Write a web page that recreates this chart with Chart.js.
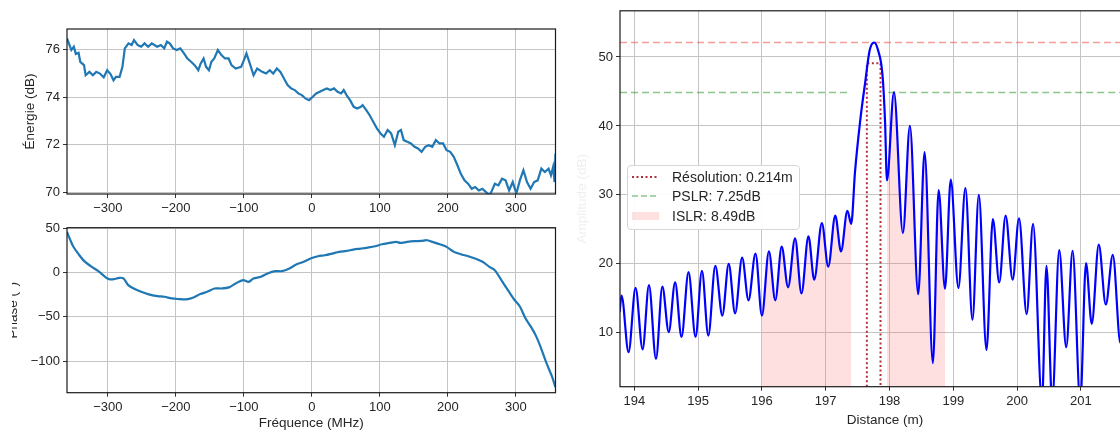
<!DOCTYPE html>
<html>
<head>
<meta charset="utf-8">
<title>Énergie, phase et réponse impulsionnelle</title>
<script src="https://cdn.jsdelivr.net/npm/chart.js"></script>
<style>
    html, body { margin: 0; padding: 0; background: #fff; }
    body { width: 1120px; height: 432px; overflow: hidden; position: relative; font-family: 'Liberation Sans', Arial, sans-serif; }
    canvas { position: absolute; }
    #cEnergie { left: 0; top: 0; }
    #cPhase { left: 0; top: 216px; }
    #cDist { left: 560px; top: 0; }
    .mask { position: absolute; left: 0; top: 236px; width: 12px; height: 150px; background: #fff; }
    .legend {
        position: absolute; left: 627px; top: 165px; width: 173px; height: 65px;
        box-sizing: border-box; border: 1px solid #d6d6d6; border-radius: 4px;
        background: rgba(255,255,255,0.92); padding-top: 1px;
        font-size: 14px; color: #262626;
    }
    .row { height: 19.5px; display: flex; align-items: center; }
    .row svg { margin-left: 4px; margin-right: 13px; }
</style>
</head>
<body>
    <canvas id="cEnergie" width="560" height="216"></canvas>
    <canvas id="cPhase" width="560" height="216"></canvas>
    <canvas id="cDist" width="600" height="432"></canvas>
    <div class="mask"></div>

    <div class="legend">
        <div class="row"><svg width="27" height="10"><line x1="0" y1="5" x2="27" y2="5" stroke="#b22d3a" stroke-width="2" stroke-dasharray="2 2.5"/></svg>Résolution: 0.214m</div>
        <div class="row"><svg width="27" height="10"><line x1="0" y1="5" x2="27" y2="5" stroke="rgba(0,128,0,0.45)" stroke-width="1.6" stroke-dasharray="6 3"/></svg>PSLR: 7.25dB</div>
        <div class="row"><svg width="27" height="10"><rect x="0" y="1" width="27" height="8" fill="rgba(255,99,99,0.2)"/></svg>ISLR: 8.49dB</div>
    </div>

    <script>
        // Énergie (dB) en fonction de la fréquence (MHz)
        const freqEnergie = [-360, -357.3, -353.6, -350, -347, -343, -340.5, -335, -332.6, -327, -322, -317, -311.6, -306, -301, -296, -291.6, -288, -282.7, -278.5,
            -275, -269.6, -265, -261.5, -256, -251, -246, -240.7, -235.4, -227.5, -222, -217, -213, -209, -204, -198.6, -193.4, -188, -183, -177.6,
            -172.4, -167, -163.4, -159.2, -155.5, -151.3, -147.7, -143.5, -138.2, -133, -127.7, -122.4, -118.2, -112, -104, -98.8, -96.2, -92, -85.7, -80.4,
            -73, -67.3, -62, -56.8, -51.5, -46.2, -41, -35.7, -30.5, -25.2, -20, -14.7, -9.5, -4.2, 1, 6.3, 11.6, 16.8, 22, 27.3,
            32.6, 37.8, 43, 46.8, 51, 56.2, 61.5, 66.7, 72, 74.6, 80, 85, 90.4, 95.6, 101, 106, 111.4, 116.6, 122, 127,
            131, 135, 140.3, 145.6, 151, 156, 161.3, 166.6, 171.8, 177, 182.3, 187.6, 192.9, 198, 203.4, 208.6, 214, 219, 224.4, 229.6,
            235, 240, 245.4, 250.7, 256, 261, 263.8, 269, 274.3, 279.6, 284.8, 290, 295.3, 300.6, 305.8, 311, 316.3, 321.6, 326.8, 332,
            337.4, 342.6, 348, 351.5, 354.7, 356.8, 358.2];
        const energieDb = [76.45, 76.24, 75.96, 76.1, 75.8, 75.85, 75.47, 75.33, 74.91, 75.05, 74.91, 75.05, 74.98, 74.82, 75.12, 74.96, 74.7, 74.84, 74.84, 75.26,
            76.03, 76.24, 76.17, 76.38, 76.17, 76.1, 76.24, 76.1, 76.24, 76.1, 76.17, 76.03, 76.31, 76.24, 76.03, 75.96, 76.03, 75.82, 75.61, 75.47,
            75.33, 75.12, 75.4, 75.61, 75.26, 75.12, 75.47, 75.61, 75.96, 75.75, 75.61, 75.61, 75.33, 75.19, 75.26, 75.61, 75.82, 75.47, 74.91, 75.19,
            75.05, 74.98, 75.12, 74.98, 75.19, 75.05, 74.77, 74.5, 74.36, 74.29, 74.15, 74.08, 73.94, 73.87, 74.0, 74.15, 74.22, 74.29, 74.36, 74.29,
            74.36, 74.22, 74.15, 74.29, 74.08, 73.87, 73.59, 73.52, 73.59, 73.66, 73.45, 73.24, 72.96, 72.69, 72.48, 72.34, 72.62, 72.48, 71.99, 72.55,
            72.62, 72.2, 72.13, 72.06, 71.92, 71.85, 71.71, 71.92, 71.99, 71.92, 72.2, 72.06, 72.06, 71.78, 71.71, 71.5, 71.15, 70.79, 70.52, 70.38,
            70.17, 70.24, 70.1, 70.17, 70.03, 69.9, 70.03, 70.38, 70.31, 70.59, 70.52, 70.1, 70.45, 69.97, 70.52, 70.94, 70.45, 70.17, 70.45, 70.52,
            71.01, 70.87, 71.01, 70.73, 71.08, 70.45, 71.64];

        // Phase (°) en fonction de la fréquence (MHz)
        const freqPhase = [-360, -356, -351, -343, -335, -325, -314, -304, -298, -291, -283, -277, -270, -262, -251, -241, -227, -217, -206, -196,
            -185, -175, -164, -154, -143, -133, -122, -112, -101, -93, -86, -75, -65, -54, -44, -33, -23, -12, -2, 9,
            19, 30, 40, 51, 61, 72, 82, 93, 103, 114, 124, 130, 140, 151, 161, 169, 177, 188, 198, 209,
            219, 230, 240, 251, 261, 269, 277, 285, 293, 298, 306, 314, 322, 330, 337, 345, 353, 358];
        const phaseDeg = [45.6, 38.1, 29.5, 20.6, 13.1, 7.1, 1.5, -4.9, -7.5, -7.5, -6.0, -6.7, -14.2, -18, -21.7, -24.3, -26.6, -27.3, -29.2, -29.9,
            -30.3, -28.4, -24.3, -21.7, -18, -18, -16.8, -12.3, -8.6, -10.5, -6.7, -4.9, -1.1, 1.5, 1.5, 4.5, 9.0, 12, 15.7, 18.3,
            19.4, 21.3, 23.2, 24.3, 25.8, 26.9, 28, 29.5, 31.8, 33.3, 34.4, 33.3, 34.4, 35.2, 35.5, 36.3, 34.4, 31.8, 28.8, 23.2,
            20.6, 18.3, 15.7, 12, 6.4, 2.6, -6.7, -16.1, -25.4, -31, -38.5, -51.6, -61, -72.2, -85.3, -102.1, -117, -129];

        // Réponse impulsionnelle : amplitude (dB) en fonction de la distance (m)
        const distance = [193.77, 193.80, 193.91, 194.02, 194.13, 194.23, 194.34, 194.44, 194.54, 194.64, 194.74, 194.85, 194.96, 195.06, 195.16, 195.27,
            195.38, 195.48, 195.58, 195.69, 195.79, 195.90, 196.00, 196.11, 196.21, 196.31, 196.41, 196.52, 196.62, 196.73, 196.82, 196.94,
            197.04, 197.15, 197.24, 197.34, 197.40, 197.46, 197.54, 197.62, 197.69, 197.76, 197.82, 197.89, 197.93, 197.96, 198.07, 198.21,
            198.32, 198.45, 198.55, 198.68, 198.77, 198.87, 198.96, 199.08, 199.19, 199.30, 199.40, 199.52, 199.62, 199.72, 199.82, 199.93,
            200.03, 200.15, 200.25, 200.39, 200.46, 200.55, 200.66, 200.77, 200.87, 200.99, 201.08, 201.17, 201.28, 201.39, 201.50, 201.62, 201.70];
        const amplitudeDb = [13.0, 15.4, 7.2, 16.5, 7.6, 16.9, 6.2, 16.7, 10.1, 17.3, 9.4, 18.8, 9.4, 19.0, 9.6, 19.7,
            12.5, 20.0, 12.8, 20.9, 14.7, 21.5, 12.5, 21.8, 14.7, 22.5, 16.6, 23.7, 15.7, 24.0, 17.7, 25.9,
            19.6, 27.0, 21.8, 27.7, 25.8, 33.4, 40.7, 46.4, 51.0, 52.1, 51.0, 47.4, 40.7, 32.1, 44.9, 24.5,
            40.0, 15.6, 36.2, 5.6, 30.7, 16.4, 32.2, 16.5, 31.0, 11.9, 30.0, 7.5, 26.5, 17.3, 27.0, 17.7,
            26.6, 12.7, 25.8, 0, 19.7, 0, 22.0, 7.9, 21.9, 0, 20.1, 11.3, 22.8, 14.1, 21.3, 8.5, 18];

        // Repères de mesure
        const niveauPic = 52.1;
        const niveauPslr = 44.85;
        const niveau3dB = 49.1;
        const resolutionBornes = [197.645, 197.859];
        const pslrSegments = [[193.776, 197.38], [197.98, 202.083]];
        const islrZones = [[196.00, 197.40], [197.96, 198.87]];

        // bornes des axes
        const freqMin = -360, freqMax = 358.2;
        const distMin = 193.776, distMax = 202.083;
        const ampMin = 2.18, ampMax = 56.7;

        Chart.defaults.font.family = "'Liberation Sans', Arial, sans-serif";
        Chart.defaults.color = '#262626';

        const toPoints = (xs, ys) => xs.map((x, i) => ({ x: x, y: ys[i] }));
        const moins = v => String(v).replace('-', '\u2212');

        // cadre noir autour de la zone de tracé
        const cadre = {
            id: 'cadre',
            afterDatasetsDraw(chart) {
                const { ctx, chartArea: a } = chart;
                ctx.save();
                ctx.strokeStyle = '#1a1a1a';
                ctx.lineWidth = 1.2;
                ctx.strokeRect(a.left, a.top, a.right - a.left, a.bottom - a.top);
                ctx.restore();
            }
        };

        function axe(o) {
            return {
                type: 'linear',
                min: o.min,
                max: o.max,
                afterFit: s => { if (s.isHorizontal()) s.height = o.size; else s.width = o.size; },
                ticks: { stepSize: o.step, includeBounds: false, autoSkip: false, maxRotation: 0, padding: 3,
                         color: '#262626', font: { size: 13 }, callback: moins },
                grid: { color: '#c4c4c4', lineWidth: 1, tickLength: 4, tickColor: '#333' },
                border: { display: false },
                title: o.title
                    ? { display: true, text: o.title, color: o.titleColor || '#262626', font: { size: 13.5 }, padding: o.titlePad }
                    : { display: false }
            };
        }

        const base = {
            animation: false,
            responsive: false,
            devicePixelRatio: 1,
            plugins: { legend: { display: false }, tooltip: { enabled: false } }
        };

        new Chart(document.getElementById('cEnergie'), {
            type: 'line',
            data: { datasets: [{ data: toPoints(freqEnergie, energieDb), borderColor: '#1f77b4', borderWidth: 2.2, pointRadius: 0, tension: 0 }] },
            options: Object.assign({}, base, {
                layout: { padding: { top: 29, right: 4.5, bottom: 0, left: 0 } },
                scales: {
                    x: axe({ min: freqMin, max: freqMax, step: 100, size: 22 }),
                    y: axe({ min: 69.95, max: 76.84, step: 2, size: 67, title: 'Énergie (dB)', titlePad: { top: 22, bottom: 0 } })
                }
            }),
            plugins: [cadre]
        });

        new Chart(document.getElementById('cPhase'), {
            type: 'line',
            data: { datasets: [{ data: toPoints(freqPhase, phaseDeg), borderColor: '#1f77b4', borderWidth: 2.2, pointRadius: 0, tension: 0.3 }] },
            options: Object.assign({}, base, {
                layout: { padding: { top: 11.7, right: 4.5, bottom: 0, left: 0 } },
                scales: {
                    x: axe({ min: freqMin, max: freqMax, step: 100, size: 39.3, title: 'Fréquence (MHz)', titlePad: { top: 0, bottom: 1 } }),
                    y: axe({ min: -135.3, max: 50.4, step: 50, size: 67, title: 'Phase (°)', titlePad: { top: 5.5, bottom: 0 } })
                }
            }),
            plugins: [cadre]
        });

        // jeux de données du graphe de droite
        const courbe = toPoints(distance, amplitudeDb);
        const zonesIslr = islrZones.map(([a, b]) => ({
            data: courbe.filter(p => p.x >= a - 1e-6 && p.x <= b + 1e-6),
            borderWidth: 0, pointRadius: 0, cubicInterpolationMode: 'monotone',
            fill: 'start', backgroundColor: 'rgba(255,99,99,0.2)', order: 5
        }));
        const lignesPslr = pslrSegments.map(([a, b]) => ({
            data: [{ x: a, y: niveauPslr }, { x: b, y: niveauPslr }],
            borderColor: 'rgba(0,128,0,0.45)', borderWidth: 1.6, borderDash: [7, 4], pointRadius: 0, order: 2
        }));

        new Chart(document.getElementById('cDist'), {
            type: 'line',
            data: {
                datasets: [
                    { data: courbe, borderColor: '#0000ff', borderWidth: 2.2, pointRadius: 0, cubicInterpolationMode: 'monotone', clip: 0, order: 0 },
                    { data: [{ x: resolutionBornes[0], y: ampMin }, { x: resolutionBornes[0], y: niveau3dB },
                             { x: resolutionBornes[1], y: niveau3dB }, { x: resolutionBornes[1], y: ampMin }],
                      borderColor: '#b22d3a', borderWidth: 2, borderDash: [2, 2.5], pointRadius: 0, tension: 0, order: 1 },
                    { data: [{ x: distMin, y: niveauPic }, { x: distMax, y: niveauPic }],
                      borderColor: 'rgba(240,60,50,0.5)', borderWidth: 1.6, borderDash: [7, 4], pointRadius: 0, order: 2 }
                ].concat(lignesPslr, zonesIslr)
            },
            options: Object.assign({}, base, {
                layout: { padding: { top: 8.3, right: 10, bottom: 0, left: 0 } },
                scales: {
                    x: axe({ min: distMin, max: distMax, step: 1, size: 45.3, title: 'Distance (m)', titlePad: { top: 0, bottom: 4 } }),
                    y: axe({ min: ampMin, max: ampMax, step: 10, size: 60, title: 'Amplitude (dB)', titleColor: '#efefef', titlePad: { top: 14.6, bottom: 0 } })
                }
            }),
            plugins: [cadre]
        });
    </script>
</body>
</html>
